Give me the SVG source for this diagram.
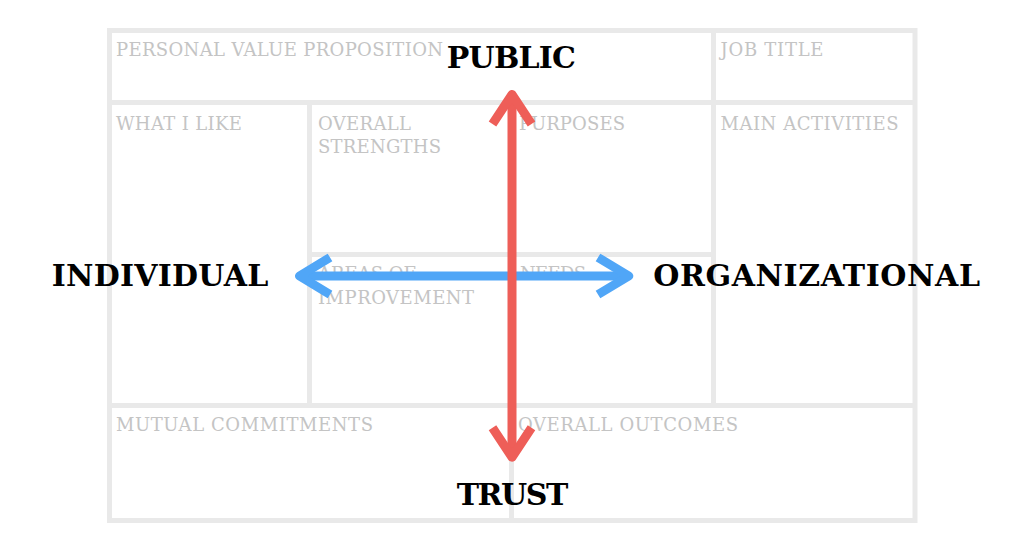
<svg xmlns="http://www.w3.org/2000/svg" width="1024" height="550" viewBox="0 0 1024 550">
<style>
.grid{stroke:#e9e9e9;stroke-width:5;fill:none}
.lbl{font-family:"DejaVu Serif","Liberation Serif",serif;font-size:18px;fill:#c4c4c4}
.big{font-family:"DejaVu Serif","Liberation Serif",serif;font-size:30px;font-weight:bold;fill:#000}
.red{stroke:#ee5e58;stroke-width:9;fill:none;stroke-linejoin:round}
.blue{stroke:#50a6f7;stroke-width:9;fill:none;stroke-linejoin:round}
</style>
<rect width="1024" height="550" fill="#fff"/>
<g id="grid">
<rect class="grid" x="109.5" y="30.5" width="805.5" height="490"/>
<line class="grid" x1="109.5" y1="102.5" x2="915" y2="102.5"/>
<line class="grid" x1="109.5" y1="405.5" x2="915" y2="405.5"/>
<line class="grid" x1="309.5" y1="254.5" x2="713.5" y2="254.5"/>
<line class="grid" x1="713.5" y1="30.5" x2="713.5" y2="405.5"/>
<line class="grid" x1="309.5" y1="102.5" x2="309.5" y2="405.5"/>
<line class="grid" x1="511.5" y1="102.5" x2="511.5" y2="520.5"/>
</g>
<g id="labels">
<text class="lbl" x="116" y="56" textLength="327">PERSONAL VALUE PROPOSITION</text>
<text class="lbl" x="720.5" y="56" textLength="103">JOB TITLE</text>
<text class="lbl" x="116" y="129.5" textLength="126">WHAT I LIKE</text>
<text class="lbl" x="318" y="129.5" textLength="93">OVERALL</text>
<text class="lbl" x="318" y="153" textLength="123">STRENGTHS</text>
<text class="lbl" x="519" y="129.5" textLength="106">PURPOSES</text>
<text class="lbl" x="720.5" y="129.5" textLength="178">MAIN ACTIVITIES</text>
<text class="lbl" x="318" y="280" textLength="98">AREAS OF</text>
<text class="lbl" x="318" y="303.5" textLength="156">IMPROVEMENT</text>
<text class="lbl" x="520" y="280" textLength="66">NEEDS</text>
<text class="lbl" x="116" y="431" textLength="257">MUTUAL COMMITMENTS</text>
<text class="lbl" x="518" y="431" textLength="220">OVERALL OUTCOMES</text>
</g>
<g id="connectors">
<g id="horizontal-arrow">
<line class="blue" x1="299.5" y1="276" x2="628.8" y2="276"/>
<polyline class="blue" points="330,257.5 299.5,276 330,294.5"/>
<polyline class="blue" points="598,257.5 628.8,276 598,294.5"/>
</g>
<g id="vertical-arrow">
<line class="red" x1="512" y1="94.5" x2="512" y2="457.2"/>
<polyline class="red" points="492.5,124 512,94.5 531.5,124"/>
<polyline class="red" points="492.5,427.7 512,457.2 531.5,427.7"/>
</g>
</g>
<g id="node-public"><text class="big" x="446.7" y="68.3" textLength="129.3">PUBLIC</text></g>
<g id="node-individual"><text class="big" x="51.7" y="286" textLength="216.7">INDIVIDUAL</text></g>
<g id="node-organizational"><text class="big" x="653.3" y="286" textLength="326.7">ORGANIZATIONAL</text></g>
<g id="node-trust"><text class="big" x="456.7" y="505" textLength="111.7">TRUST</text></g>
</svg>
